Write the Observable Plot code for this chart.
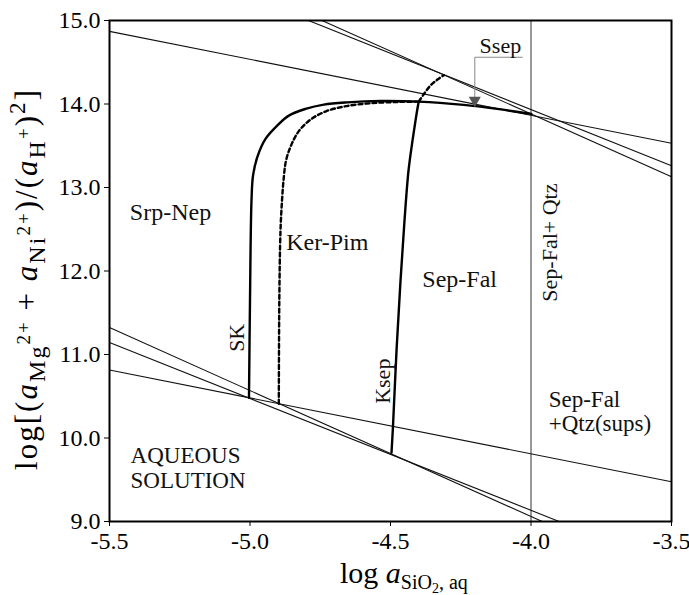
<!DOCTYPE html>
<html><head><meta charset="utf-8">
<script src="https://cdn.jsdelivr.net/npm/d3@7"></script>
<script src="https://cdn.jsdelivr.net/npm/@observablehq/plot@0.6"></script>
<style>body{margin:0;background:#fff} svg text{font-family:"Liberation Serif","Times New Roman",Times,serif}</style>
</head><body><div id="chart"></div>
<script>
// ---- data (log a_SiO2 on x, log[(aMg+aNi)/aH^2] on y) ----
const xTicks = [-5.5, -5.0, -4.5, -4.0, -3.5];
const yTicks = [9, 10, 11, 12, 13, 14, 15];

// straight stability boundaries (endpoints in data units)
const boundaryX1 = [-5.5, -4.792, -4.744, -5.5, -5.5, -5.5];
const boundaryY1 = [14.87, 15.0, 15.0, 11.322, 11.143, 10.815];
const boundaryX2 = [-3.5, -3.5, -3.5, -3.96, -3.90, -3.5];
const boundaryY2 = [13.53, 13.26, 13.13, 9.0, 9.0, 9.476];

// quartz saturation
const qtzSat = [-4.0];

// SK curve (solid)
const skX = [-5.0036, -5.0, -4.9947, -4.9893, -4.9744, -4.9448, -4.9032, -4.8619, -4.8025, -4.7374, -4.6541, -4.5356, -4.3993, -4.2391, -4.1203, -3.9993];
const skY = [10.483, 11.643, 12.842, 13.141, 13.361, 13.582, 13.741, 13.861, 13.941, 13.993, 14.020, 14.037, 14.029, 13.989, 13.941, 13.881];

// Ker-Pim curve (dashed)
const kpX = [-4.8975, -4.8957, -4.8915, -4.8861, -4.8808, -4.8719, -4.8541, -4.8274, -4.7847, -4.7278, -4.6566, -4.5641, -4.4644, -4.3993];
const kpY = [10.411, 11.643, 12.482, 12.842, 13.082, 13.321, 13.501, 13.669, 13.813, 13.915, 13.975, 14.011, 14.025, 14.029];

// Ssep curve (dashed extension)
const ssX = [-4.3993, -4.381, -4.358, -4.334, -4.310];
const ssY = [14.029, 14.12, 14.22, 14.29, 14.345];

// Ksep curve (solid)
const ksX = [-4.4964, -4.4911, -4.4786, -4.4644, -4.4502, -4.4359, -4.4217, -4.4110, -4.4021, -4.3993];
const ksY = [9.824, 10.144, 11.043, 11.882, 12.602, 13.201, 13.561, 13.801, 13.981, 14.029];

// Ssep pointer
const ptrX = [-4.031, -4.2, -4.2];
const ptrY = [14.56, 14.56, 14.06];
const tipX = [-4.2];
const tipY = [14.045];

// field labels
const fieldText = ["Srp-Nep", "Ker-Pim", "Sep-Fal"];
const fieldX = [-5.283, -4.725, -4.254];
const fieldY = [12.70, 12.34, 11.895];
const leftText = ["AQUEOUS", "SOLUTION", "Sep-Fal", "+Qtz(sups)"];
const leftX = [-5.425, -5.425, -3.937, -3.937];
const leftY = [9.784, 9.484, 10.46, 10.17];
const rotText = ["SK", "Ksep", "Sep-Fal+ Qtz"];
const rotX = [-5.046, -4.528, -3.931];
const rotY = [11.20, 10.68, 12.34];
const noteText = ["Ssep"];
const noteX = [-4.109];
const noteY = [14.70];

// ---- build ----
const serif = "Liberation Serif";
const zipXY = (xs, ys) => xs.map((x, i) => ({x, y: ys[i]}));
const links = boundaryX1.map((x1, i) => ({x1, y1: boundaryY1[i], x2: boundaryX2[i], y2: boundaryY2[i]}));
const fields = fieldText.map((t, i) => ({t, x: fieldX[i], y: fieldY[i]}));
const lefts = leftText.map((t, i) => ({t, x: leftX[i], y: leftY[i]}));
const rots = rotText.map((t, i) => ({t, x: rotX[i], y: rotY[i]}));
const notes = noteText.map((t, i) => ({t, x: noteX[i], y: noteY[i]}));

const plot = Plot.plot({
  width: 689, height: 595,
  marginLeft: 109, marginRight: 18, marginTop: 20, marginBottom: 74,
  style: {background: "#fff", color: "#000"},
  x: {domain: [-5.5, -3.5]},
  y: {domain: [9, 15]},
  marks: [
    Plot.ruleX(qtzSat, {stroke: "#333", strokeWidth: 1}),
    Plot.link(links, {x1: "x1", y1: "y1", x2: "x2", y2: "y2", stroke: "#111", strokeWidth: 1.1}),
    Plot.line(zipXY(skX, skY), {x: "x", y: "y", stroke: "#000", strokeWidth: 2.4, curve: "catmull-rom"}),
    Plot.line(zipXY(ksX, ksY), {x: "x", y: "y", stroke: "#000", strokeWidth: 2.4, curve: "catmull-rom"}),
    Plot.line(zipXY(kpX, kpY), {x: "x", y: "y", stroke: "#000", strokeWidth: 2.4, strokeDasharray: "4,3", curve: "catmull-rom"}),
    Plot.line(zipXY(ssX, ssY), {x: "x", y: "y", stroke: "#000", strokeWidth: 2.4, strokeDasharray: "4,3", curve: "catmull-rom"}),
    Plot.line(zipXY(ptrX, ptrY), {x: "x", y: "y", stroke: "#888", strokeWidth: 1}),
    Plot.dot(zipXY(tipX, tipY), {x: "x", y: "y", symbol: "triangle", rotate: 180, r: 4.5, fill: "#555", stroke: "none"}),
    Plot.text(fields, {x: "x", y: "y", text: "t", fontSize: 24, fontFamily: serif, fill: "#111"}),
    Plot.text(lefts, {x: "x", y: "y", text: "t", fontSize: 23, fontFamily: serif, textAnchor: "start", fill: "#111"}),
    Plot.text(rots, {x: "x", y: "y", text: "t", fontSize: 22, fontFamily: serif, rotate: -90, fill: "#111"}),
    Plot.text(notes, {x: "x", y: "y", text: "t", fontSize: 22, fontFamily: serif, fill: "#111"}),
    Plot.axisX({ticks: xTicks, tickFormat: d => d.toFixed(1), tickSize: 5, tickPadding: 5, fontSize: 24, fontFamily: serif, label: null}),
    Plot.axisY({ticks: yTicks, tickFormat: d => d.toFixed(1), tickSize: 5, tickPadding: 4, fontSize: 24, fontFamily: serif, label: null}),
    Plot.frame({stroke: "#000", strokeWidth: 2})
  ]
});
document.getElementById("chart").appendChild(plot);

// axis titles with sub/superscripts
function richText(parent, segs) {
  let cur = 0;
  segs.forEach(s => {
    const ts = parent.append("tspan").text(s.t)
      .attr("font-size", s.size)
      .attr("dy", (s.shift || 0) - cur);
    if (s.italic) ts.attr("font-style", "italic");
    cur = s.shift || 0;
  });
}
const svg = d3.select(plot);
const xt = svg.append("text").attr("x", 340).attr("y", 583)
  .attr("font-family", serif).attr("fill", "#000").attr("text-anchor", "start");
richText(xt, [
  {t: "log ", size: 30}, {t: "a", size: 30, italic: true},
  {t: "SiO", size: 20, shift: 6}, {t: "2", size: 14, shift: 10}, {t: ", aq", size: 20, shift: 6}
]);
const yt = svg.append("text").attr("transform", "translate(37,280) rotate(-90)")
  .attr("font-family", serif).attr("fill", "#000").attr("text-anchor", "middle")
  .attr("textLength", 380).attr("lengthAdjust", "spacing");
richText(yt, [
  {t: "log[(", size: 31}, {t: "a", size: 31, italic: true},
  {t: "Mg", size: 24, shift: 8}, {t: "2+", size: 19, shift: -7},
  {t: " + ", size: 31}, {t: "a", size: 31, italic: true},
  {t: "Ni", size: 24, shift: 8}, {t: "2+", size: 19, shift: -7},
  {t: ")/(", size: 31}, {t: "a", size: 31, italic: true},
  {t: "H", size: 24, shift: 8}, {t: "+", size: 19, shift: -7},
  {t: ")", size: 31}, {t: "2", size: 23, shift: -12}, {t: "]", size: 31}
]);
</script></body></html>
